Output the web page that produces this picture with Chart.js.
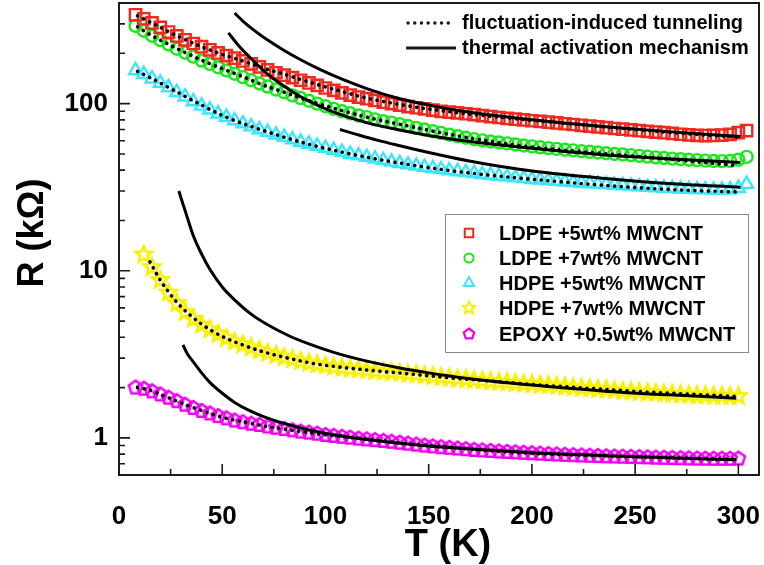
<!DOCTYPE html>
<html>
<head>
<meta charset="utf-8">
<script src="https://cdn.jsdelivr.net/npm/chart.js@4.4.1/dist/chart.umd.min.js"></script>
<style>
  html, body { margin: 0; padding: 0; background: #fff; }
  #wrap { width: 764px; height: 565px; }
</style>
</head>
<body>
<div id="wrap"><canvas id="rt"></canvas></div>
<script>
// measured resistance R (kOhm) vs temperature T (K); null = no point
const tempK = [8, 12, 16, 20, 24, 28, 32, 36, 40, 44, 48, 52, 56, 60, 64, 68, 72, 76, 80, 84,
  88, 92, 96, 100, 104, 108, 112, 116, 120, 124, 128, 132, 136, 140, 144, 148, 152, 156, 160, 164,
  168, 172, 176, 180, 184, 188, 192, 196, 200, 204, 208, 212, 216, 220, 224, 228, 232, 236, 240, 244,
  248, 252, 256, 260, 264, 268, 272, 276, 280, 284, 288, 292, 296, 300, 304];
const ldpe5 = [340, 322, 304, 286, 268, 254, 241, 229, 219, 210, 201, 194, 187, 180, 173, 166, 159, 153, 148, 143,
  138, 133, 128.5, 124, 120, 116, 112.5, 109.5, 107, 104.5, 102, 100, 98, 96, 94.5, 93, 91.5, 90, 89, 88,
  87, 86, 84.8, 83.7, 82.6, 81.5, 80.7, 79.9, 79, 78.2, 77.4, 76.6, 75.8, 75, 74.2, 73.4, 72.6, 71.8, 71, 70.3,
  69.6, 68.9, 68.2, 67.6, 67, 66.3, 65.6, 65, 64.6, 64.4, 64.5, 64.8, 65.5, 67, 69];
const ldpe7 = [292, 273, 255, 240, 226, 213, 202, 191, 181, 173, 165, 158, 151, 144, 138, 132, 126.5, 121.5, 117, 112,
  108, 104, 100, 96.5, 93, 90, 87.5, 85, 83, 80.5, 78.5, 77, 75.2, 73.5, 71.6, 70, 68.4, 66.8, 65.2, 63.8,
  62.5, 61.3, 60.3, 59.4, 58.6, 57.8, 57, 56.2, 55.5, 54.8, 54.2, 53.6, 53, 52.5, 52, 51.5, 51, 50.5, 50, 49.6,
  49.2, 48.7, 48.2, 47.7, 47.3, 46.9, 46.5, 46.2, 45.9, 45.6, 45.4, 45.3, 45.4, 46.2, 48];
const hdpe5 = [158, 150, 141, 133, 125, 117, 110, 103, 97, 92, 87, 83, 79.2, 76, 72.8, 70, 67.5, 65.2, 63, 61,
  59, 57.4, 55.8, 54.2, 52.7, 51.3, 50, 48.9, 47.9, 46.8, 45.8, 44.8, 43.9, 43.2, 42.4, 41.7, 41, 40.4, 39.8, 39.3,
  38.8, 38.3, 37.8, 37.4, 36.9, 36.5, 36.1, 35.7, 35.3, 35, 34.7, 34.4, 34.1, 33.8, 33.5, 33.3, 33.1, 32.9, 32.6, 32.4,
  32.2, 31.9, 31.7, 31.5, 31.3, 31.1, 30.9, 30.8, 30.7, 30.6, 30.5, 30.5, 30.6, 31.2, 33];
const hdpe7 = [null, 12.5, 10.5, 8.8, 7.4, 6.4, 5.65, 5.15, 4.75, 4.45, 4.18, 3.95, 3.77, 3.62, 3.48, 3.35, 3.23, 3.13, 3.04, 2.96,
  2.88, 2.81, 2.76, 2.71, 2.67, 2.63, 2.6, 2.57, 2.54, 2.51, 2.49, 2.47, 2.45, 2.42, 2.4, 2.37, 2.34, 2.31, 2.29, 2.26,
  2.24, 2.22, 2.2, 2.18, 2.16, 2.15, 2.13, 2.11, 2.1, 2.08, 2.07, 2.05, 2.03, 2.01, 1.99, 1.98, 1.96, 1.95, 1.93, 1.91,
  1.9, 1.88, 1.87, 1.86, 1.84, 1.83, 1.82, 1.81, 1.8, 1.8, 1.79, 1.79, 1.78, 1.78, null];
const epoxy = [2.0, 1.97, 1.9, 1.82, 1.74, 1.66, 1.58, 1.51, 1.45, 1.4, 1.35, 1.31, 1.27, 1.24, 1.215, 1.195, 1.17, 1.15, 1.13, 1.11,
  1.09, 1.075, 1.06, 1.04, 1.028, 1.015, 1.003, 0.99, 0.98, 0.97, 0.96, 0.948, 0.936, 0.924, 0.912, 0.9, 0.89, 0.88, 0.872, 0.864,
  0.856, 0.848, 0.842, 0.836, 0.83, 0.825, 0.82, 0.815, 0.81, 0.805, 0.8, 0.796, 0.792, 0.788, 0.785, 0.782, 0.779, 0.776, 0.774, 0.772,
  0.77, 0.767, 0.765, 0.762, 0.76, 0.758, 0.756, 0.754, 0.752, 0.751, 0.75, 0.75, 0.75, 0.752, null];

// fluctuation-induced tunneling fits
const fitT = [9, 15, 20, 25, 30, 40, 50, 60, 70, 80, 90, 100, 120, 140, 160, 180, 200, 225, 250, 275, 300];
const fitLdpe5 = [335, 308, 286, 266, 248, 219, 197, 180, 163, 150, 137, 126, 108, 97, 89.5, 84, 79.5, 74.5, 70, 66, 63];
const fitLdpe7 = [288, 259, 240, 223, 208, 182, 162, 145, 129, 117, 106, 97, 83, 73.5, 65.5, 59.5, 55, 51.5, 48.5, 45.5, 42.5];
const fitHdpe5 = [156, 143, 133, 123, 114, 98, 85, 76, 69, 63, 58, 54, 47.8, 43.3, 39.8, 37.3, 35.3, 33.2, 31.5, 30.3, 29.6];
const fitHdpe7 = [null, 11.3, 8.8, 7.2, 6.1, 4.8, 4.05, 3.6, 3.27, 3.04, 2.85, 2.72, 2.55, 2.42, 2.29, 2.19, 2.09, 1.99, 1.9, 1.83, 1.77];
const fitEpoxy = [2.0, 1.93, 1.82, 1.72, 1.62, 1.46, 1.33, 1.25, 1.18, 1.13, 1.085, 1.045, 0.985, 0.925, 0.88, 0.838, 0.808, 0.787, 0.77, 0.757, 0.745];

// thermal activation fits, each over its own temperature range
const taLdpe5T = [56, 60, 65, 72, 80, 88, 96, 104, 120, 136, 150, 169, 200, 234, 266, 301];
const taLdpe5 = [348, 312, 277, 240, 208, 183, 163, 147, 123, 107, 98, 89, 80, 73, 68, 63.5];
const taLdpe7T = [53, 58, 64, 72, 80, 88, 96, 104, 120, 136, 150, 169, 200, 234, 266, 301];
const taLdpe7 = [265, 222, 186, 150, 127, 110, 98, 89, 77, 69.5, 64.5, 59.5, 54, 49.5, 46.8, 44.5];
const taHdpe5T = [107, 115, 125, 136, 150, 169, 185, 200, 234, 266, 301];
const taHdpe5 = [70, 65.5, 60.5, 56, 51, 45.5, 42, 39.5, 35.8, 33.3, 31.6];
const taHdpe7T = [29, 31, 33, 36, 40, 44, 50, 56, 64, 72, 82, 92, 104, 120, 136, 150, 169, 200, 234, 266, 299];
const taHdpe7 = [30, 25, 21, 16.2, 12.6, 10.2, 8.0, 6.7, 5.5, 4.75, 4.1, 3.65, 3.25, 2.88, 2.62, 2.45, 2.27, 2.07, 1.91, 1.81, 1.73];
const taEpoxyT = [31, 33, 36, 40, 44, 50, 56, 63, 70, 80, 90, 101, 117, 136, 150, 169, 200, 234, 266, 299];
const taEpoxy = [3.6, 3.2, 2.85, 2.45, 2.15, 1.85, 1.63, 1.46, 1.34, 1.22, 1.13, 1.06, 0.99, 0.93, 0.895, 0.86, 0.815, 0.785, 0.76, 0.74];

const xTicks = [0, 50, 100, 150, 200, 250, 300];
const xMinor = [25, 75, 125, 175, 225, 275];
const yTicks = [1, 10, 100];
const sampleNames = ['LDPE +5wt% MWCNT', 'LDPE +7wt% MWCNT', 'HDPE +5wt% MWCNT', 'HDPE +7wt% MWCNT', 'EPOXY +0.5wt% MWCNT'];
const modelNames = ['fluctuation-induced tunneling', 'thermal activation mechanism'];

const FONT = "'Liberation Sans', Arial, Helvetica, sans-serif";
const colors = ['#f0281e', '#1ee61e', '#3ce6ff', '#f8f000', '#f000f0'];

function pts(xs, ys) {
  return xs.map((x, i) => ({ x: x, y: ys[i] })).filter(p => p.y != null);
}

// hollow star / pentagon markers drawn once into small canvases
function polyMarker(size, n, rOut, rIn, color, lw) {
  const c = document.createElement('canvas');
  c.width = c.height = size;
  const g = c.getContext('2d');
  const m = size / 2;
  const k = rIn ? n * 2 : n;
  g.beginPath();
  for (let i = 0; i < k; i++) {
    const r = rIn && i % 2 ? rIn : rOut;
    const a = -Math.PI / 2 + i * 2 * Math.PI / k;
    g.lineTo(m + r * Math.cos(a), m + r * Math.sin(a));
  }
  g.closePath();
  g.lineJoin = 'miter';
  g.strokeStyle = color;
  g.lineWidth = lw;
  g.stroke();
  return c;
}
const starMark = polyMarker(22, 5, 8.6, 3.8, colors[3], 2.6);
const pentMark = polyMarker(20, 5, 7, 0, colors[4], 2.5);
const starKey = polyMarker(16, 5, 6.5, 3, colors[3], 2);
const pentKey = polyMarker(16, 5, 5.5, 0, colors[4], 2.2);

const markerStyles = [
  { pointStyle: 'rect', pointRadius: 8 },
  { pointStyle: 'circle', pointRadius: 6 },
  { pointStyle: 'triangle', pointRadius: 7.5 },
  { pointStyle: starMark, pointRadius: 9 },
  { pointStyle: pentMark, pointRadius: 8 }
];
const keyStyles = ['rect', 'circle', 'triangle', starKey, pentKey];
const keyRadius = [6, 4.6, 6, 7, 7];

const measured = [ldpe5, ldpe7, hdpe5, hdpe7, epoxy];
const fits = [fitLdpe5, fitLdpe7, fitHdpe5, fitHdpe7, fitEpoxy];
const taT = [taLdpe5T, taLdpe7T, taHdpe5T, taHdpe7T, taEpoxyT];
const taR = [taLdpe5, taLdpe7, taHdpe5, taHdpe7, taEpoxy];

const datasets = [];
fits.forEach(f => datasets.push({
  data: pts(fitT, f), showLine: true, pointRadius: 0,
  borderColor: '#000', borderWidth: 3.6, borderDash: [0.1, 6.6], borderCapStyle: 'round',
  cubicInterpolationMode: 'monotone'
}));
taR.forEach((r, i) => datasets.push({
  data: pts(taT[i], r), showLine: true, pointRadius: 0,
  borderColor: '#000', borderWidth: 3, cubicInterpolationMode: 'monotone'
}));
measured.forEach((m, i) => datasets.push(Object.assign({
  data: pts(tempK, m), showLine: false,
  borderColor: colors[i], backgroundColor: 'rgba(0,0,0,0)', pointBorderWidth: 2.4
}, markerStyles[i])));

// keep the plot box fixed: no extra room for overhanging tick labels
function fixBox(size) {
  return s => {
    if (s.isHorizontal()) s.height = size; else s.width = size;
    s.paddingLeft = s.paddingRight = s.paddingTop = s.paddingBottom = 0;
  };
}

const decor = {
  id: 'decor',
  afterDraw(chart) {
    const { ctx, chartArea: a, scales: { x, y } } = chart;
    ctx.save();
    // frame
    ctx.strokeStyle = '#1a1a1a';
    ctx.lineWidth = 2;
    ctx.strokeRect(a.left, a.top, a.right - a.left, a.bottom - a.top);

    // inward tick marks
    ctx.lineWidth = 1.6;
    ctx.beginPath();
    xTicks.forEach(t => { const px = x.getPixelForValue(t); ctx.moveTo(px, a.bottom); ctx.lineTo(px, a.bottom - 11); });
    xMinor.forEach(t => { const px = x.getPixelForValue(t); ctx.moveTo(px, a.bottom); ctx.lineTo(px, a.bottom - 6); });
    [0.1, 1, 10, 100].forEach(d => {
      for (let m = 1; m <= 9; m++) {
        const v = m * d;
        if (v < y.min || v > y.max) continue;
        const py = y.getPixelForValue(v);
        ctx.moveTo(a.left, py);
        ctx.lineTo(a.left + (m === 1 ? 11 : 6), py);
      }
    });
    ctx.stroke();

    // axis titles
    ctx.fillStyle = '#000';
    ctx.textAlign = 'center';
    ctx.textBaseline = 'middle';
    ctx.font = 'bold 38px ' + FONT;
    ctx.fillText('T (K)', 448, 546);
    ctx.save();
    ctx.translate(33, 233);
    ctx.rotate(-Math.PI / 2);
    ctx.font = 'bold 36px ' + FONT;
    ctx.fillText('R (k\u03A9)', 0, 0);
    ctx.restore();

    // model key (top right)
    ctx.font = 'bold 20px ' + FONT;
    ctx.textAlign = 'left';
    ctx.lineWidth = 3.4;
    ctx.lineCap = 'round';
    ctx.setLineDash([0.1, 6.6]);
    ctx.beginPath(); ctx.moveTo(408, 23); ctx.lineTo(452, 23); ctx.stroke();
    ctx.setLineDash([]);
    ctx.lineCap = 'butt';
    ctx.lineWidth = 3;
    ctx.beginPath(); ctx.moveTo(406, 48); ctx.lineTo(456, 48); ctx.stroke();
    ctx.fillText(modelNames[0], 462, 23);
    ctx.fillText(modelNames[1], 462, 48);

    // sample key (boxed)
    ctx.lineWidth = 1;
    ctx.strokeStyle = '#8a8a8a';
    ctx.strokeRect(445.5, 214.5, 303, 138);
    const rowY = [233, 258, 283, 308, 334];
    sampleNames.forEach((name, i) => {
      ctx.strokeStyle = colors[i];
      ctx.fillStyle = 'rgba(0,0,0,0)';
      ctx.lineWidth = 2;
      Chart.helpers.drawPoint(ctx, { pointStyle: keyStyles[i], radius: keyRadius[i], rotation: 0, borderWidth: 2 }, 469, rowY[i]);
      ctx.fillStyle = '#000';
      ctx.fillText(name, 499, rowY[i] + 1);
    });
    ctx.restore();
  }
};

new Chart(document.getElementById('rt'), {
  type: 'scatter',
  data: { datasets: datasets },
  options: {
    responsive: true,
    maintainAspectRatio: false,
    animation: false,
    layout: { autoPadding: false, padding: { left: 0, top: 3, right: 5, bottom: 0 } },
    plugins: { legend: { display: false }, tooltip: { enabled: false } },
    scales: {
      x: {
        type: 'linear', min: 0, max: 310,
        afterBuildTicks: s => { s.ticks = xTicks.map(v => ({ value: v })); },
        afterFit: fixBox(90),
        grid: { display: false, drawTicks: false },
        border: { display: false },
        ticks: { font: { family: FONT, size: 26, weight: 'bold' }, color: '#000', padding: 26, maxRotation: 0 }
      },
      y: {
        type: 'logarithmic', min: 0.62, max: 400,
        afterBuildTicks: s => { s.ticks = yTicks.map(v => ({ value: v })); },
        afterFit: fixBox(119),
        grid: { display: false, drawTicks: false },
        border: { display: false },
        ticks: { font: { family: FONT, size: 26, weight: 'bold' }, color: '#000', padding: 11, callback: v => String(v) }
      }
    }
  },
  plugins: [decor]
});
</script>
</body>
</html>
